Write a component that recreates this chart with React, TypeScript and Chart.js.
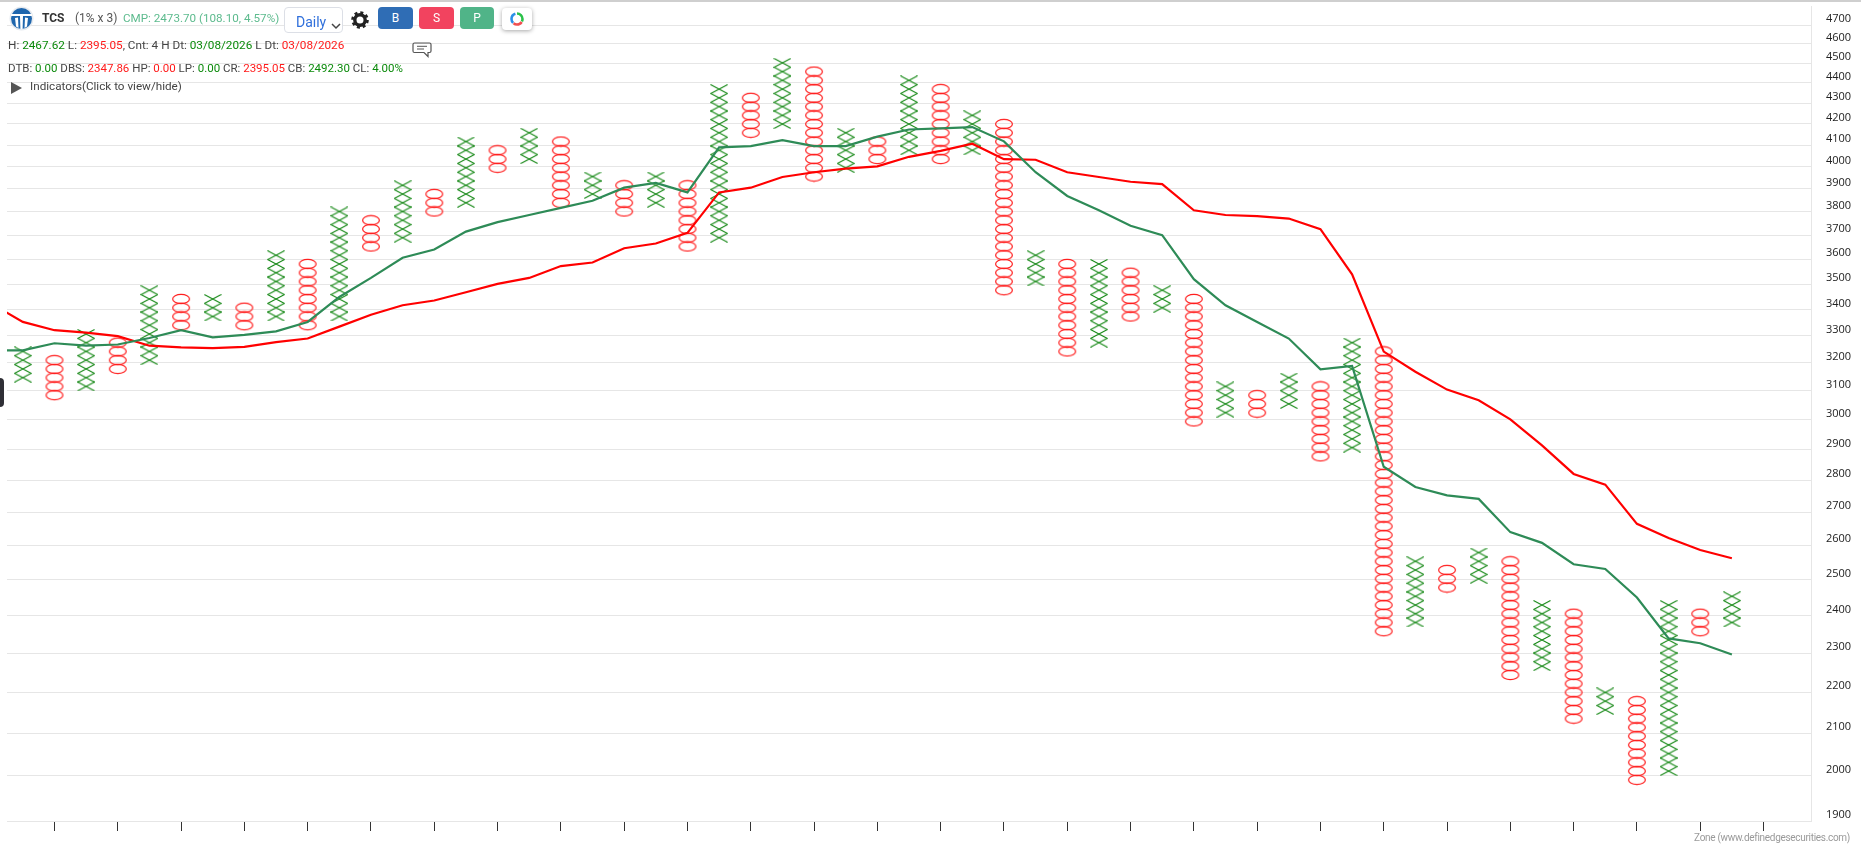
import React, { useEffect, useRef } from "react";
import { Chart, registerables } from "chart.js";

Chart.register(...registerables);

const boxLadder = [
  1991.1, 2011.0, 2031.1, 2051.4, 2071.9, 2092.6, 2113.6, 2134.7, 2156.0, 2177.6, 2199.3, 2221.3, 2243.5, 2266.0,
  2288.6, 2311.5, 2334.6, 2357.9, 2381.5, 2405.3, 2429.3, 2453.6, 2478.1, 2502.9, 2527.9, 2553.2, 2578.8, 2604.5,
  2630.6, 2656.9, 2683.4, 2710.3, 2737.4, 2764.8, 2792.4, 2820.3, 2848.5, 2877.0, 2905.8, 2934.9, 2964.2, 2993.8,
  3023.8, 3054.0, 3084.5, 3115.4, 3146.6, 3178.0, 3209.8, 3241.9, 3274.3, 3307.0, 3340.1, 3373.5, 3407.2, 3441.3,
  3475.7, 3510.5, 3545.6, 3581.1, 3616.9, 3653.0, 3689.6, 3726.4, 3763.7, 3801.4, 3839.4, 3877.8, 3916.6, 3955.7,
  3995.3, 4035.2, 4075.6, 4116.3, 4157.5, 4199.1, 4241.0, 4283.4, 4326.3, 4369.5, 4413.2, 4457.3, 4501.9,
];

const columnLow = [
  3146.6, 3084.5, 3115.4, 3178.0, 3209.8, 3340.1, 3373.5, 3340.1, 3373.5, 3340.1, 3373.5, 3653.0, 3689.6, 3801.4,
  3839.4, 3995.3, 4035.2, 3839.4, 3877.8, 3801.4, 3839.4, 3653.0, 3689.6, 4157.5, 4199.1, 3955.7, 3995.3, 4035.2,
  4075.6, 4035.2, 4075.6, 3475.7, 3510.5, 3241.9, 3274.3, 3373.5, 3407.2, 2993.8, 3023.8, 3023.8, 3054.0, 2877.0,
  2905.8, 2357.9, 2381.5, 2478.1, 2502.9, 2243.5, 2266.0, 2134.7, 2156.0, 1991.1, 2011.0, 2357.9, 2381.5,
];

const columnHigh = [
  3241.9, 3209.8, 3307.0, 3274.3, 3475.7, 3441.3, 3441.3, 3407.2, 3616.9, 3581.1, 3801.4, 3763.7, 3916.6, 3877.8,
  4116.3, 4075.6, 4157.5, 4116.3, 3955.7, 3916.6, 3955.7, 3916.6, 4369.5, 4326.3, 4501.9, 4457.3, 4157.5, 4116.3,
  4413.2, 4369.5, 4241.0, 4199.1, 3616.9, 3581.1, 3581.1, 3545.6, 3475.7, 3441.3, 3115.4, 3084.5, 3146.6, 3115.4,
  3274.3, 3241.9, 2553.2, 2527.9, 2578.8, 2553.2, 2429.3, 2405.3, 2199.3, 2177.6, 2429.3, 2405.3, 2453.6,
];

const columnKinds = [
  "X", "O", "X", "O", "X", "O", "X", "O", "X", "O", "X", "O", "X", "O", "X", "O", "X", "O", "X", "O", "X", "O",
  "X", "O", "X", "O", "X", "O", "X", "O", "X", "O", "X", "O", "X", "O", "X", "O", "X", "O", "X", "O", "X", "O",
  "X", "O", "X", "O", "X", "O", "X", "O", "X", "O", "X",
];

// The first entry sits one column before the first box column, off the left edge.
const redLine = [
  3423.6, 3352.5, 3321.1, 3312.0, 3298.8, 3263.0, 3256.6, 3254.3, 3258.8, 3276.5, 3289.8, 3334.6, 3380.0, 3416.7,
  3435.2, 3467.9, 3500.8, 3524.6, 3572.5, 3587.0, 3645.7, 3665.4, 3710.3, 3884.8, 3905.8, 3953.7, 3975.0, 3991.2,
  4002.0, 4045.5, 4072.9, 4106.1, 4034.6, 4032.0, 3975.0, 3953.7, 3932.3, 3921.7, 3806.8, 3786.3, 3781.2, 3771.0,
  3725.4, 3538.9, 3241.3, 3167.6, 3104.1, 3066.6, 3001.0, 2913.1, 2820.1, 2785.9, 2664.4, 2621.5, 2586.3, 2561.9,
];

const greenLine = [
  3245.7, 3245.7, 3272.1, 3263.0, 3267.5, 3291.6, 3321.1, 3294.3, 3303.2, 3316.6, 3352.5, 3449.1, 3524.6, 3606.5,
  3640.7, 3715.3, 3755.7, 3786.3, 3817.1, 3848.2, 3905.8, 3927.0, 3884.8, 4089.5, 4095.0, 4122.8, 4095.0, 4095.0,
  4139.5, 4173.2, 4178.9, 4184.5, 4117.2, 3975.0, 3869.0, 3806.8, 3740.3, 3700.3, 3519.8, 3416.7, 3352.5, 3289.8,
  3176.2, 3189.1, 2843.1, 2778.4, 2752.2, 2741.1, 2639.3, 2607.4, 2544.7, 2531.0, 2450.2, 2338.6, 2326.0, 2296.4,
];

const yTickValues = [
  1900, 2000, 2100, 2200, 2300, 2400, 2500, 2600, 2700, 2800, 2900, 3000, 3100, 3200, 3300, 3400, 3500, 3600, 3700,
  3800, 3900, 4000, 4100, 4200, 4300, 4400, 4500, 4600, 4700,
];

const xTickColumns = [
  1, 3, 5, 7, 9, 11, 13, 15, 17, 19, 21, 23, 25, 27, 29, 31, 33, 35, 37, 39, 41, 43, 45, 47, 49, 51, 53, 55,
];

const W = 1861;
const H = 864;
const AREA_LEFT = 7;
const AREA_TOP = 6.5;
const AREA_RIGHT = 1811;
const AREA_BOTTOM = 821;

function makeX(): HTMLCanvasElement {
  const c = document.createElement("canvas");
  c.width = 18;
  c.height = 10;
  const g = c.getContext("2d")!;
  g.strokeStyle = "#158815";
  g.lineWidth = 1.1;
  g.beginPath();
  g.moveTo(0.5, 0.5);
  g.lineTo(17.5, 9.5);
  g.moveTo(17.5, 0.5);
  g.lineTo(0.5, 9.5);
  g.stroke();
  return c;
}

function makeO(): HTMLCanvasElement {
  const c = document.createElement("canvas");
  c.width = 20;
  c.height = 12;
  const g = c.getContext("2d")!;
  g.strokeStyle = "#ff1f1f";
  g.lineWidth = 1.2;
  g.beginPath();
  g.ellipse(10, 6, 8.4, 4.7, 0, 0, Math.PI * 2);
  g.stroke();
  return c;
}

function boxesOf(kind: string) {
  const pts: { x: number; y: number }[] = [];
  columnKinds.forEach((k, col) => {
    if (k !== kind) return;
    boxLadder.forEach((v) => {
      if (v >= columnLow[col] && v <= columnHigh[col]) pts.push({ x: col, y: v });
    });
  });
  return pts;
}

const lineFont = "Roboto, 'Open Sans', sans-serif";
const G = "#0b8a0b";
const R = "#ff1a1a";
const T = "#444";

function Abs(props: { x: number; y: number; style?: React.CSSProperties; children?: React.ReactNode }) {
  return (
    <div style={{ position: "absolute", left: props.x, top: props.y, whiteSpace: "nowrap", ...props.style }}>
      {props.children}
    </div>
  );
}

function Btn(props: { x: number; w: number; bg: string; label: string }) {
  return (
    <Abs
      x={props.x}
      y={7}
      style={{
        width: props.w,
        height: 22,
        borderRadius: 4,
        background: props.bg,
        color: "#fff",
        textAlign: "center",
        font: `12px/22px ${lineFont}`,
      }}
    >
      {props.label}
    </Abs>
  );
}

export default function App() {
  const ref = useRef<HTMLCanvasElement>(null);
  useEffect(() => {
    const chart = new Chart(ref.current!, {
      type: "scatter",
      data: {
        datasets: [
          {
            type: "line",
            label: "Green",
            data: greenLine.map((y, i) => ({ x: i - 1, y })),
            borderColor: "#2e8b57",
            borderWidth: 2.2,
            pointRadius: 0,
            tension: 0,
            order: 0,
          },
          {
            type: "line",
            label: "Red",
            data: redLine.map((y, i) => ({ x: i - 1, y })),
            borderColor: "#ff0000",
            borderWidth: 2.2,
            pointRadius: 0,
            tension: 0,
            order: 1,
          },
          {
            type: "scatter",
            label: "X",
            data: boxesOf("X"),
            pointStyle: makeX(),
            pointRadius: 5,
            order: 2,
          },
          {
            type: "scatter",
            label: "O",
            data: boxesOf("O"),
            pointStyle: makeO(),
            pointRadius: 5,
            order: 3,
          },
        ],
      } as any,
      options: {
        responsive: false,
        animation: false,
        events: [],
        layout: { padding: { left: AREA_LEFT, top: AREA_TOP, right: 0, bottom: 0 } },
        plugins: { legend: { display: false }, tooltip: { enabled: false } },
        scales: {
          x: {
            type: "linear",
            min: -0.5,
            max: 56.5,
            bounds: "data",
            border: { display: false },
            grid: { drawOnChartArea: false, drawTicks: true, tickLength: 10, tickColor: "#333", tickWidth: 1 },
            ticks: { display: false },
            afterBuildTicks: (s: any) => {
              s.ticks = xTickColumns.map((value) => ({ value }));
            },
            afterFit: (s: any) => {
              s.height = H - AREA_BOTTOM;
              s.paddingLeft = 0;
              s.paddingRight = 0;
            },
          },
          y: {
            type: "logarithmic",
            position: "right",
            min: 1900,
            max: 4800,
            bounds: "data",
            border: { display: true, color: "#e6e6e6", width: 1 },
            grid: { drawTicks: false, color: "#e6e6e6", lineWidth: 1 },
            ticks: {
              autoSkip: false,
              padding: 15,
              labelOffset: -6,
              color: "#222",
              font: { family: "'Open Sans', sans-serif", size: 11 },
              callback: (v: any) => String(v),
            },
            afterBuildTicks: (s: any) => {
              s.ticks = yTickValues.map((value) => ({ value }));
            },
            afterFit: (s: any) => {
              s.width = W - AREA_RIGHT;
              s.paddingTop = 0;
              s.paddingBottom = 0;
            },
          },
        },
      },
    } as any);
    return () => chart.destroy();
  }, []);

  const rowStyle: React.CSSProperties = { font: `11.75px/16px ${lineFont}`, color: T };

  return (
    <div style={{ position: "absolute", left: 0, top: 0, width: W, height: H, background: "#fff", overflow: "hidden" }}>
      <canvas ref={ref} width={W} height={H} style={{ position: "absolute", left: 0, top: 0, width: W, height: H, display: "block" }} />
      <div style={{ position: "absolute", left: 0, top: 0, width: W, height: 2, background: "#cfcfcf" }} />

      <Abs x={9} y={6}>
        <svg width="25" height="25" viewBox="0 0 25 25">
          <circle cx="12.5" cy="12.5" r="12" fill="#e6eaef" />
          <circle cx="12.5" cy="12.5" r="10.5" fill="#1f66ad" />
          <path d="M2 8 H23 V10 H14 L13.6 23 H11.4 L11 10 H2 Z" fill="#fff" />
          <path d="M6 12 L9 11.5 L9.5 22 L7 20.5 Z M19 12 L16 11.5 L15.5 22 L18 20.5 Z" fill="#fff" />
        </svg>
      </Abs>
      <Abs x={42} y={10} style={{ font: `bold 12px/16px ${lineFont}`, color: "#333" }}>TCS</Abs>
      <Abs x={75} y={10} style={{ font: `12px/16px ${lineFont}`, color: "#555" }}>(1% x 3)</Abs>
      <Abs x={123} y={10} style={{ font: `11.65px/16px ${lineFont}`, color: "#5dbb8e" }}>CMP: 2473.70 (108.10, 4.57%)</Abs>

      <Abs x={284} y={7} style={{ width: 59, height: 26, boxSizing: "border-box", border: "1px solid #dcdfe6", borderRadius: 4, background: "#fff" }} />
      <Abs x={296} y={13} style={{ font: `14px/18px ${lineFont}`, color: "#2f6fdb" }}>Daily</Abs>
      <Abs x={331} y={16}>
        <svg width="10" height="7" viewBox="0 0 10 7"><path d="M1 1 L5 5 L9 1" fill="none" stroke="#444" strokeWidth="1.5" /></svg>
      </Abs>

      <Abs x={351} y={11}>
        <svg width="18" height="18" viewBox="0 0 18 18">
          <circle cx="9" cy="9" r="5.2" fill="none" stroke="#222" strokeWidth="3.4" />
          <circle cx="9" cy="9" r="7.5" fill="none" stroke="#222" strokeWidth="2.6" strokeDasharray="3 2.9" />
        </svg>
      </Abs>

      <Btn x={378} w={35} bg="#2f6db5" label="B" />
      <Btn x={419} w={35} bg="#f2435f" label="S" />
      <Btn x={460} w={34} bg="#50b488" label="P" />
      <Abs x={502} y={8} style={{ width: 30, height: 22, borderRadius: 4, background: "#fff", boxShadow: "0 1px 4px rgba(0,0,0,0.35)" }}>
        <svg width="30" height="22" viewBox="0 0 30 22">
          <circle cx="15" cy="11" r="5.5" fill="none" stroke="#2bc24a" strokeWidth="2.6" strokeDasharray="11 24" transform="rotate(-90 15 11)" />
          <circle cx="15" cy="11" r="5.5" fill="none" stroke="#f05050" strokeWidth="2.6" strokeDasharray="9 26" strokeDashoffset="-11.5" transform="rotate(-90 15 11)" />
          <circle cx="15" cy="11" r="5.5" fill="none" stroke="#2b8fe8" strokeWidth="2.6" strokeDasharray="11 24" strokeDashoffset="-21" transform="rotate(-90 15 11)" />
        </svg>
      </Abs>

      <Abs x={412} y={42}>
        <svg width="20" height="16" viewBox="0 0 20 16">
          <path d="M2.5 1 H17.5 Q19 1 19 2.5 V9 Q19 10.5 17.5 10.5 H16 V14.5 L12 10.5 H2.5 Q1 10.5 1 9 V2.5 Q1 1 2.5 1 Z" fill="none" stroke="#555" strokeWidth="1.2" />
          <path d="M5 4.3 H15 M5 7 H12" stroke="#555" strokeWidth="1" />
        </svg>
      </Abs>

      <Abs x={8} y={37} style={rowStyle}>
        H: <span style={{ color: G }}>2467.62</span> L: <span style={{ color: R }}>2395.05</span>, Cnt: 4 H Dt:{" "}
        <span style={{ color: G }}>03/08/2026</span> L Dt: <span style={{ color: R }}>03/08/2026</span>
      </Abs>
      <Abs x={8} y={60} style={{ ...rowStyle, fontSize: "11.5px" }}>
        DTB: <span style={{ color: G }}>0.00</span> DBS: <span style={{ color: R }}>2347.86</span> HP:{" "}
        <span style={{ color: R }}>0.00</span> LP: <span style={{ color: G }}>0.00</span> CR:{" "}
        <span style={{ color: R }}>2395.05</span> CB: <span style={{ color: G }}>2492.30</span> CL:{" "}
        <span style={{ color: G }}>4.00%</span>
      </Abs>
      <Abs x={11} y={80}>
        <svg width="11" height="12" viewBox="0 0 11 12"><path d="M0 0 L11 6 L0 12 Z" fill="#555" /></svg>
      </Abs>
      <Abs x={30} y={78} style={{ ...rowStyle, fontSize: "11.7px" }}>Indicators(Click to view/hide)</Abs>

      <Abs x={0} y={378} style={{ width: 4, height: 29, background: "#2f2f36", borderRadius: "0 5px 5px 0" }} />

      <div style={{ position: "absolute", right: 11, top: 831, whiteSpace: "nowrap", letterSpacing: "-0.3px", font: `10px/14px ${lineFont}`, color: "#9a9a9a" }}>
        Zone (www.definedgesecurities.com)
      </div>
    </div>
  );
}
